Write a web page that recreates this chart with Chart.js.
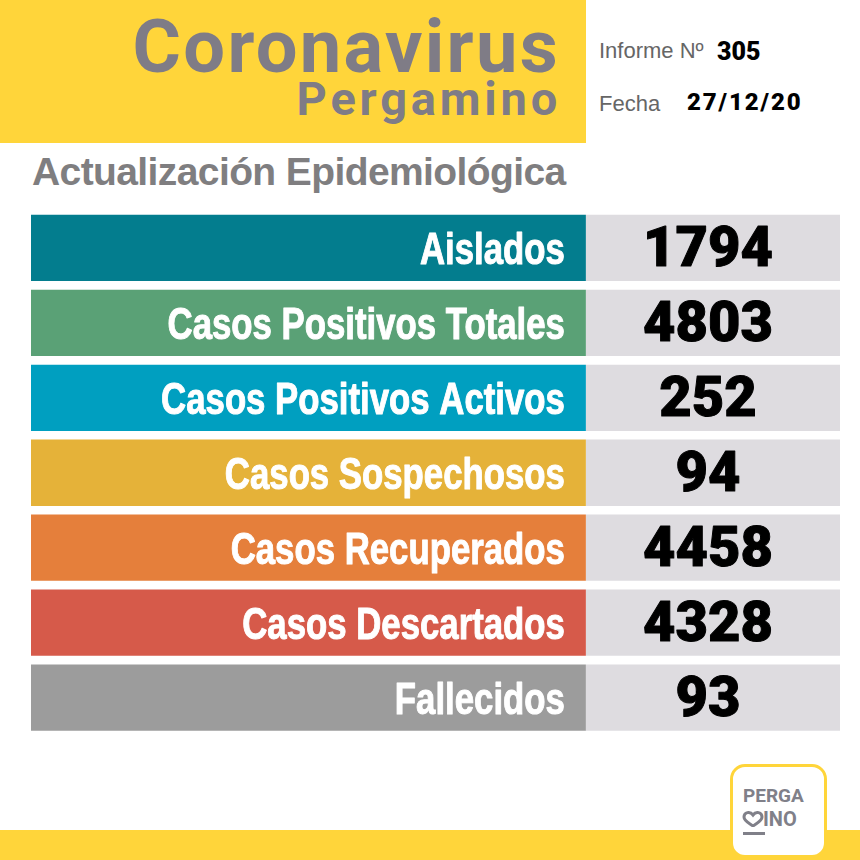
<!DOCTYPE html>
<html>
<head>
<meta charset="utf-8">
<title>Coronavirus Pergamino</title>
<script src="https://cdn.jsdelivr.net/npm/chart.js@4/dist/chart.umd.min.js"></script>
<style>
  html, body { margin: 0; padding: 0; background: #fff; }
  #page { position: relative; width: 860px; height: 860px; overflow: hidden; }
  #page div, #page svg { position: absolute; white-space: nowrap; }
  canvas { position: absolute; left: 0; top: 0; }
  .grey { color: #7f7c86; font-family: Roboto, sans-serif; font-weight: 700; line-height: 1; }
  .info { color: #666; font-family: "Liberation Sans", sans-serif; font-size: 22px; line-height: 1; }
  .num { color: #000; font-family: Roboto, sans-serif; font-weight: 900; line-height: 1; }
</style>
</head>
<body>
<div id="page">
  <div style="left:0;top:0;width:586px;height:143px;background:#ffd53a"></div>
  <div style="left:0;top:830px;width:860px;height:30px;background:#ffd53a"></div>

  <div class="grey" style="right:300px;top:10px;font-size:74px;letter-spacing:2.3px">Coronavirus</div>
  <div class="grey" style="right:299px;top:75px;font-size:47px;letter-spacing:3.8px">Pergamino</div>
  <div style="left:32px;top:150px;color:#7f7e80;font:bold 39px 'Liberation Sans',sans-serif;line-height:44px;letter-spacing:-0.6px">Actualización Epidemiológica</div>

  <div class="info" style="left:599px;top:40px">Informe Nº</div>
  <div class="num" style="left:717px;top:39px;font-size:25px">305</div>
  <div class="info" style="left:599px;top:93px">Fecha</div>
  <div class="num" style="left:687px;top:90px;font-size:24px;letter-spacing:1.9px">27/12/20</div>

  <canvas id="board" width="860" height="860"></canvas>

  <div style="left:730px;top:764px;width:91px;height:88px;border:3px solid #ffd53a;border-radius:15px;background:#fff"></div>
  <div class="grey" style="left:743px;top:786px;font-size:19px;color:#808089">PERGA</div>
  <div class="grey" style="left:763px;top:809px;font-size:20px;color:#808089">INO</div>
  <svg style="left:742px;top:811px" width="22" height="16" viewBox="0 0 22 16">
    <path d="M11 4 C8 0 2 1 2 6 C2 10 7 12 11 15 C15 12 20 10 20 6 C20 1 14 0 11 4 Z" fill="none" stroke="#808089" stroke-width="3"/>
  </svg>
  <div style="left:743px;top:832px;width:22px;height:3px;background:#808089"></div>
</div>

<script>
// Rows of the report, top to bottom
const categories = ['Aislados', 'Casos Positivos Totales', 'Casos Positivos Activos', 'Casos Sospechosos', 'Casos Recuperados', 'Casos Descartados', 'Fallecidos'];
const reported = [1794, 4803, 252, 94, 4458, 4328, 93];
const rowColors = ['#037d8e', '#5aa176', '#009fc0', '#e5b239', '#e57f3b', '#d65a4a', '#9c9c9c'];

// Every row has the same two cells, the numbers do not change the bar length
const labelCell = [1, 1, 1, 1, 1, 1, 1];
const valueCell = [0.458, 0.458, 0.458, 0.458, 0.458, 0.458, 0.458];

// Draws the row names and the numbers on top of the bars
const rowText = {
    id: 'rowText',
    afterDatasetsDraw(chart) {
        const ctx = chart.ctx;
        const x = chart.scales.x;
        const y = chart.scales.y;
        ctx.save();
        ctx.textBaseline = 'middle';
        ctx.lineJoin = 'round';
        categories.forEach((name, i) => {
            const rowY = y.getPixelForValue(i);
            // the names are condensed in the original, no narrow font is installed
            ctx.save();
            ctx.translate(x.getPixelForValue(1) - 21, rowY + 4);
            ctx.scale(0.79, 1);
            ctx.fillStyle = '#fff';
            ctx.strokeStyle = '#fff';
            ctx.lineWidth = 1;
            ctx.textAlign = 'right';
            ctx.font = "bold 44px 'Liberation Sans', sans-serif";
            ctx.strokeText(name, 0, 0);
            ctx.fillText(name, 0, 0);
            ctx.restore();
            ctx.fillStyle = '#000';
            ctx.strokeStyle = '#000';
            ctx.lineWidth = 1;
            ctx.textAlign = 'center';
            ctx.font = '900 56px Roboto, sans-serif';
            ctx.strokeText(String(reported[i]), x.getPixelForValue(1.22), rowY + 4);
            ctx.fillText(String(reported[i]), x.getPixelForValue(1.22), rowY + 4);
        });
        ctx.restore();
    }
};

new Chart(document.getElementById('board').getContext('2d'), {
    type: 'bar',
    data: {
        labels: categories,
        datasets: [{
            data: labelCell,
            backgroundColor: rowColors,
            barPercentage: 0.885,
            categoryPercentage: 1
        }, {
            data: valueCell,
            backgroundColor: '#dedce0',
            barPercentage: 0.885,
            categoryPercentage: 1
        }]
    },
    options: {
        indexAxis: 'y',
        responsive: false,
        animation: false,
        layout: { padding: { left: 31, right: 20, top: 210.5, bottom: 125 } },
        plugins: { legend: { display: false }, tooltip: { enabled: false } },
        scales: {
            x: { stacked: true, display: false, min: 0, max: 1.458 },
            y: { stacked: true, display: false }
        }
    },
    plugins: [rowText]
});
</script>
</body>
</html>
